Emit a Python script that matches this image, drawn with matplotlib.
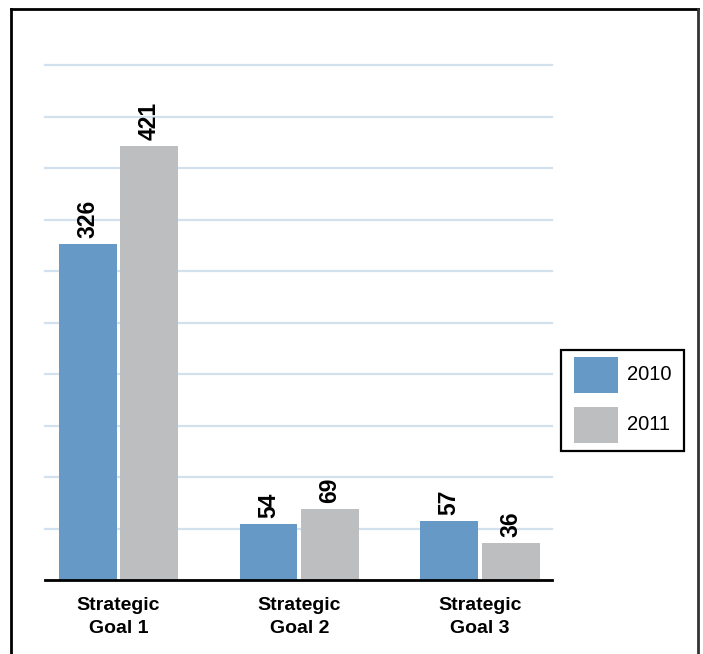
import matplotlib
matplotlib.use("Agg")
import matplotlib.pyplot as plt
from matplotlib.lines import Line2D
from matplotlib.patches import Rectangle
import numpy as np

categories = ["Strategic\nGoal 1", "Strategic\nGoal 2", "Strategic\nGoal 3"]
series_names = ["2010", "2011"]
values_2010 = [326, 54, 57]
values_2011 = [421, 69, 36]
colors = ["#6699c5", "#bdbec0"]

plt.rcParams["font.family"] = ["Liberation Sans", "DejaVu Sans"]

W, H = 703, 654
fig = plt.figure(figsize=(W / 100, H / 100), dpi=100)
ax = fig.add_axes([45 / W, (H - 580) / H, (552 - 45) / W, (580 - 65) / H])

x = np.arange(len(categories))
bw = 0.32
off = 0.17
b1 = ax.bar(x - off, values_2010, width=bw, color=colors[0], zorder=3)
b2 = ax.bar(x + off, values_2011, width=bw, color=colors[1], zorder=3)

for bars, vals in ((b1, values_2010), (b2, values_2011)):
    for rect, v in zip(bars, vals):
        ax.text(rect.get_x() + rect.get_width() / 2, v + 6, str(v),
                rotation=90, ha="center", va="bottom", fontsize=16.5,
                fontweight="bold")

ax.set_ylim(0, 500)
ax.set_xlim(-0.406, 2.398)
ax.set_yticks(np.arange(0, 501, 50))
ax.yaxis.grid(True, color="#d3e1ee", linewidth=1.6, zorder=0)
for gl in ax.get_ygridlines():
    gl.set_clip_on(False)
ax.set_axisbelow(True)
ax.tick_params(axis="y", left=False, labelleft=False)
ax.tick_params(axis="x", bottom=False, pad=9)
ax.set_xticks(x)
ax.set_xticklabels(categories, fontsize=14, fontweight="bold",
                   linespacing=1.45)
for s in ("top", "right", "left"):
    ax.spines[s].set_visible(False)
ax.spines["bottom"].set_linewidth(2)
ax.spines["bottom"].set_color("black")
ax.spines["bottom"].set_zorder(4)


def fx(px):
    return px / W


def fy(py):
    return 1 - py / H


# legend box drawn in figure pixels
fig.add_artist(Rectangle((fx(561), fy(451)), fx(684) - fx(561), fy(350) - fy(451),
                         facecolor="white", edgecolor="black", lw=1.6))
swatch_tops = [357, 407]
for name, c, top in zip(series_names, colors, swatch_tops):
    fig.add_artist(Rectangle((fx(574), fy(top + 36)), fx(618) - fx(574),
                             fy(top) - fy(top + 36), facecolor=c, edgecolor="none"))
    fig.text(fx(627), fy(top + 18), name, ha="left", va="center", fontsize=14.5)

# page frame
fig.add_artist(Line2D([fx(11), fx(11)], [fy(9), 0], color="black", lw=2))
fig.add_artist(Line2D([fx(11), fx(698)], [fy(9), fy(9)], color="black", lw=2))
fig.add_artist(Line2D([fx(698), fx(698)], [fy(9), 0], color="#333333", lw=2))

fig.savefig("out.png", dpi=100)
